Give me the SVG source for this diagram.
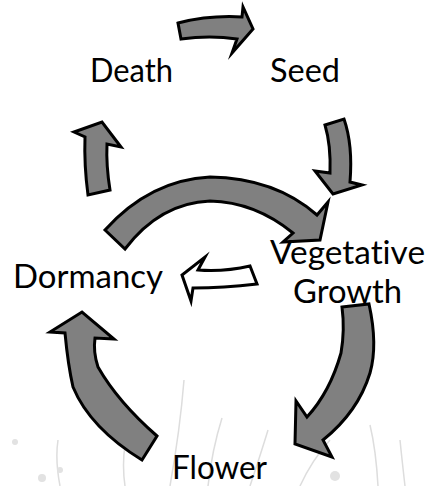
<svg xmlns="http://www.w3.org/2000/svg" width="430" height="486" viewBox="0 0 430 486">
<style>
.arr{fill:#808080;stroke:#000;stroke-width:3;stroke-linejoin:miter;stroke-miterlimit:10}
.warr{fill:#fff;stroke:#000;stroke-width:3;stroke-linejoin:miter;stroke-miterlimit:10}
.lbl{font-family:Lato,"Liberation Sans",sans-serif;font-size:32px;fill:#000;text-anchor:middle;font-variant-ligatures:none;font-feature-settings:"liga" 0}
.grass{fill:none;stroke:#ddd;stroke-width:1.5}
</style>
<rect width="430" height="486" fill="#fff"/>
<g id="background">
<path class="grass" d="M170 486 Q180 430 184 380"/>
<path class="grass" d="M208 486 Q212 450 222 418"/>
<path class="grass" d="M250 486 Q262 450 268 430"/>
<path class="grass" d="M300 486 Q312 460 330 440"/>
<path class="grass" d="M378 486 Q376 450 370 425"/>
<path class="grass" d="M405 486 Q402 460 400 440"/>
<path class="grass" d="M60 486 Q55 460 58 440"/>
<path class="grass" d="M125 486 Q122 465 125 445"/>
<circle cx="15" cy="442" r="3" fill="#e2e2e2"/>
<circle cx="42" cy="478" r="4" fill="#e2e2e2"/>
<circle cx="60" cy="470" r="3" fill="#e2e2e2"/>
<circle cx="335" cy="476" r="5" fill="#e2e2e2"/>
</g>
<g id="connectors">
<path id="death-seed" class="arr" d="M178 23 Q210 15 242 17 L243 7 L253 29 L232 53 L237 39 Q210 35 181 39 Z"/>
<path id="seed-veg" class="arr" d="M325 125 L344 119 Q353 145 350 182 L362 185 L333 194 L315 171 L330 173 Q331 145 325 125 Z"/>
<path id="dorm-death" class="arr" d="M88 195 Q84 165 85 137 L74 132 L102 122 L121 147 L107 144 Q106 165 110 190 Z"/>
<path id="dorm-veg" class="arr" d="M105 230 Q150 180 210 177 Q275 178 317 215 L328 202 L320 240 L283 242 L293 233 Q255 202 210 201 Q160 203 125 249 Z"/>
<path id="veg-dorm" class="warr" d="M250 266 Q224 272 198 270 L205 257 L182 275 L191 301 L193 288 Q223 288 257 284 Z"/>
<path id="growth-flower" class="arr" d="M342 307 L369 304 Q378 345 370 373 Q358 412 323 440 L332 457 L295 444 L296 401 L307 417 Q330 392 341 353 Q345 330 342 307 Z"/>
<path id="flower-dorm" class="arr" d="M157 436 Q118 402 98 367 Q93 352 95 338 L114 339 L82 312 L50 332 L65 333 Q68 365 73 387 Q90 428 142 460 Z"/>
</g>
<g id="node-death"><text class="lbl" x="131.5" y="82" textLength="83" lengthAdjust="spacingAndGlyphs">Death</text></g>
<g id="node-seed"><text class="lbl" x="305" y="82" textLength="70" lengthAdjust="spacingAndGlyphs">Seed</text></g>
<g id="node-vegetative"><text class="lbl" x="347.5" y="264" textLength="155" lengthAdjust="spacingAndGlyphs">Vegetative</text><text class="lbl" x="347.5" y="303" textLength="109" lengthAdjust="spacingAndGlyphs">Growth</text></g>
<g id="node-dormancy"><text class="lbl" x="88" y="288" textLength="150" lengthAdjust="spacingAndGlyphs">Dormancy</text></g>
<g id="node-flower"><text class="lbl" x="219.5" y="479" textLength="95" lengthAdjust="spacingAndGlyphs">Flower</text></g>
</svg>
